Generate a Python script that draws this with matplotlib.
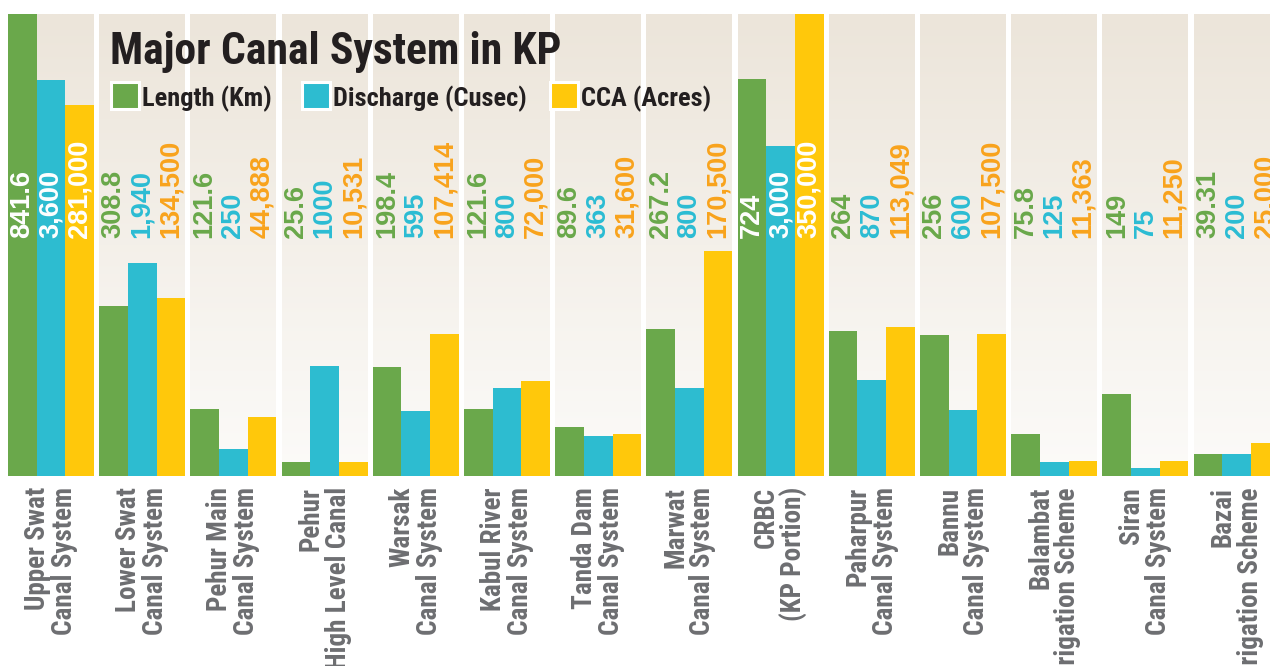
import numpy as np
import matplotlib
matplotlib.use("Agg")
import matplotlib.pyplot as plt
import matplotlib.font_manager as fm
from matplotlib.colors import to_rgb
from matplotlib.patches import Rectangle

canals = ["Upper Swat\nCanal System", "Lower Swat\nCanal System", "Pehur Main\nCanal System",
          "Pehur\nHigh Level Canal", "Warsak\nCanal System", "Kabul River\nCanal System",
          "Tanda Dam\nCanal System", "Marwat\nCanal System", "CRBC\n(KP Portion)",
          "Paharpur\nCanal System", "Bannu\nCanal System", "Balambat\nIrrigation Scheme",
          "Siran\nCanal System", "Bazai\nIrrigation Scheme"]
length_km = [841.6, 308.8, 121.6, 25.6, 198.4, 121.6, 89.6, 267.2, 724, 264, 256, 75.8, 149, 39.31]
discharge_cusec = [3600, 1940, 250, 1000, 595, 800, 363, 800, 3000, 870, 600, 125, 75, 200]
cca_acres = [281000, 134500, 44888, 10531, 107414, 72000, 31600, 170500, 350000, 113049,
             107500, 11363, 11250, 25000]

# every series has its own scale in the original graphic
LEN_FULL = 841.6
DIS_FULL = 4200
CCA_FULL = 350000

len_txt = [f"{v:g}" for v in length_km]
dis_txt = [f"{v:,}" for v in discharge_cusec]
dis_txt[3] = "1000"  # printed without comma in the original
cca_txt = [f"{v:,}" for v in cca_acres]

GREEN, CYAN, YELLOW = "#6aa84b", "#2dbcd0", "#ffc80b"
GREEN_TXT, CYAN_TXT, ORANGE_TXT = "#69a84a", "#2bbcd3", "#f9a31c"
DARK, GREY = "#231f20", "#6d6e71"


# look for some condensed / narrow bold face, the original uses Helvetica Condensed
def condensed_bold():
    prefs = ["liberation sans narrow", "roboto condensed", "noto sans", "dejavu sans",
             "open sans", "liberation sans"]
    found = {}
    for fe in fm.fontManager.ttflist:
        w = fe.weight if isinstance(fe.weight, int) else fm.weight_dict.get(fe.weight, 400)
        st = str(fe.stretch).lower()
        narrow = ("condensed" in st or "narrow" in fe.name.lower() or "condensed" in fe.name.lower()
                  or "condensed" in fe.fname.lower() or "narrow" in fe.fname.lower())
        if narrow and w >= 700 and fe.style == "normal" and "semi" not in fe.fname.lower():
            for p in prefs:
                if fe.name.lower().startswith(p):
                    found.setdefault(p, fe.fname)
    for p in prefs:
        if p in found:
            return found[p], True
    return None, False


cond_file, has_cond = condensed_bold()


def cond_fp(size):
    if has_cond:
        return fm.FontProperties(fname=cond_file, size=size)
    return fm.FontProperties(family="Liberation Sans", weight="bold", size=size * 0.85)


fig = plt.figure(figsize=(12.7, 6.66), dpi=100)
ax = fig.add_axes([0, 1 - 476 / 666, 1, 462 / 666])

x = np.arange(len(canals))
w = 0.3143

# panel background with a soft vertical gradient
top_c = np.array(to_rgb("#ece5da"))
bot_c = np.array(to_rgb("#fcfbf9"))
t = np.linspace(0, 1, 256)[:, None, None]
grad = top_c + (bot_c - top_c) * t
for xi in x:
    ax.imshow(grad, extent=[xi - 1.5 * w, xi + 1.5 * w, 0, 1], aspect="auto",
              origin="upper", zorder=0)

LABEL_Y = 0.515
series = [(length_km, LEN_FULL, GREEN, GREEN_TXT, len_txt),
          (discharge_cusec, DIS_FULL, CYAN, CYAN_TXT, dis_txt),
          (cca_acres, CCA_FULL, YELLOW, ORANGE_TXT, cca_txt)]
for k, (vals, full, col, tcol, txts) in enumerate(series):
    h = np.array(vals, dtype=float) / full
    ax.bar(x + (k - 1) * w, h, width=w, color=col, linewidth=0, zorder=2)
    for xi, hi, s in zip(x, h, txts):
        c = "white" if hi > LABEL_Y else tcol
        ax.text(xi + (k - 1) * w, LABEL_Y, s, rotation=90, ha="center", va="bottom",
                color=c, fontsize=19.5, fontweight="bold", family="Liberation Sans", zorder=3)

ax.set_xlim(-0.559, 13.366)
ax.set_ylim(0, 1)
for sp in ax.spines.values():
    sp.set_visible(False)
ax.set_yticks([])
ax.set_xticks(x)
ax.set_xticklabels(canals, rotation=90, fontproperties=cond_fp(19.5), color=GREY,
                   multialignment="right", linespacing=1.0)
ax.tick_params(axis="x", length=0, pad=8)

# title
fig.text(110 / 1270, 1 - 64 / 666, "Major Canal System in KP", fontproperties=cond_fp(31.5),
         color=DARK, ha="left", va="baseline")

# legend, drawn by hand to sit inside the panels like the original
legend_items = [(GREEN, "Length (Km)", 110.5, 142),
                (CYAN, "Discharge (Cusec)", 301.5, 333),
                (YELLOW, "CCA (Acres)", 550, 581)]
for col, lab, sx, tx in legend_items:
    fig.add_artist(Rectangle((sx / 1270, 1 - 109 / 666), 28 / 1270, 27 / 666,
                             transform=fig.transFigure, facecolor=col, edgecolor="white",
                             linewidth=2.2, zorder=5))
    fig.text(tx / 1270, 1 - 106 / 666, lab, fontproperties=cond_fp(19), color=DARK,
             ha="left", va="baseline")

fig.savefig("out.png", dpi=100, facecolor="white")
